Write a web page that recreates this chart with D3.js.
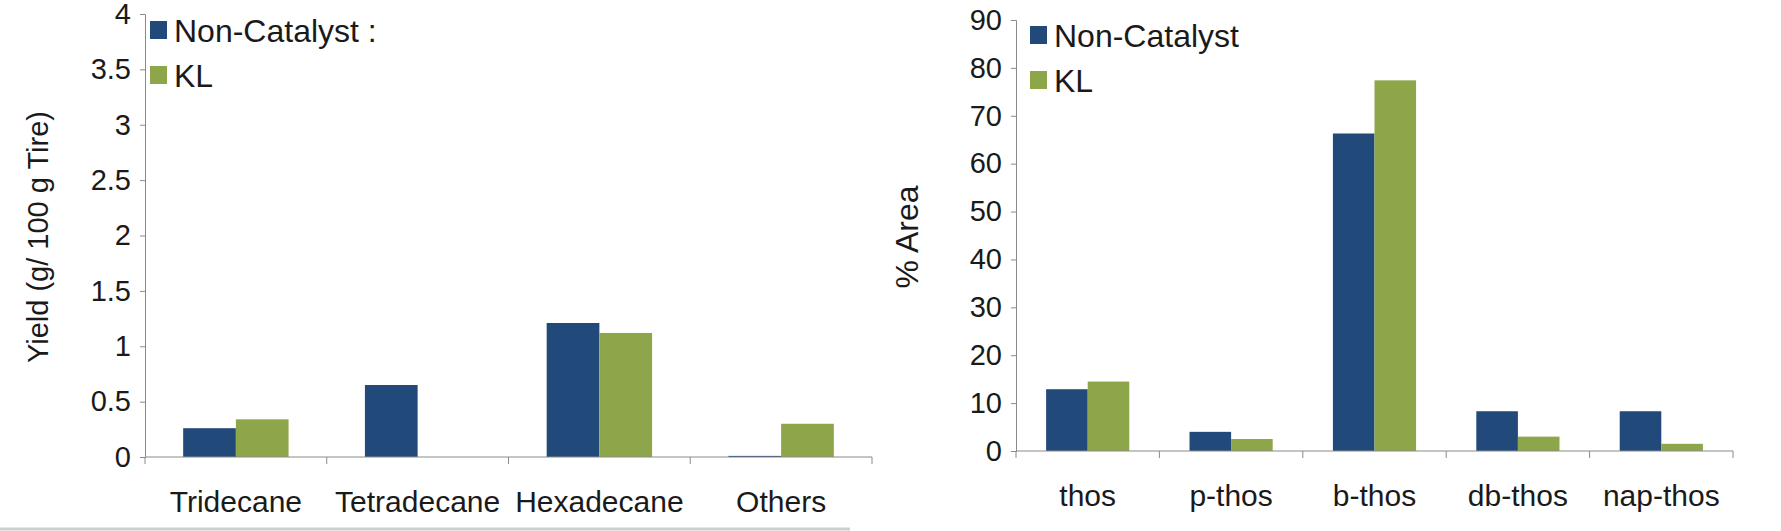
<!DOCTYPE html>
<html><head><meta charset="utf-8">
<script src="https://cdn.jsdelivr.net/npm/d3@7"></script>
<style>body{margin:0;background:#fff}text{font-family:"Liberation Sans",Arial,sans-serif;fill:#1a1a1a}</style>
</head><body><svg id="c" width="1781" height="531"></svg>
<script>
const series = ['Non-Catalyst', 'KL'];
const colors = ['#21497a', '#8da64a'];

const leftCats = ['Tridecane', 'Tetradecane', 'Hexadecane', 'Others'];
const leftNC = [0.26, 0.65, 1.21, 0.01];
const leftKL = [0.34, 0, 1.12, 0.3];
const leftTicks = [0, 0.5, 1, 1.5, 2, 2.5, 3, 3.5, 4];

const rightCats = ['thos', 'p-thos', 'b-thos', 'db-thos', 'nap-thos'];
const rightNC = [12.9, 4.0, 66.3, 8.3, 8.3];
const rightKL = [14.5, 2.5, 77.4, 3.0, 1.5];
const rightTicks = [0, 10, 20, 30, 40, 50, 60, 70, 80, 90];

const svg = d3.select('#c');

function chart(o) {
  const g = svg.append('g');
  const x = d3.scaleBand().domain(o.cats).range([o.x0, o.x1]).paddingInner(0.42).paddingOuter(0.21);
  const xb = d3.scaleBand().domain(o.cats).range([o.x0, o.x1]);
  const sub = d3.scaleBand().domain(series).range([0, x.bandwidth()]);
  const y = d3.scaleLinear().domain([0, o.max]).range([o.y0, o.y1]);

  // bars
  [o.nc, o.kl].forEach((vals, si) => {
    g.selectAll(null).data(o.cats).enter().append('rect')
      .attr('x', (d) => x(d) + sub(series[si]))
      .attr('width', sub.bandwidth())
      .attr('y', (d, i) => y(vals[i]))
      .attr('height', (d, i) => y(0) - y(vals[i]))
      .attr('fill', colors[si]);
  });

  // y axis
  const ya = g.append('g').attr('transform', `translate(${o.x0},0)`)
    .call(d3.axisLeft(y).tickValues(o.ticks).tickSize(5).tickPadding(9).tickFormat((d) => d));
  ya.select('.domain').attr('stroke', '#8a8a8a');
  ya.selectAll('.tick line').attr('stroke', '#8a8a8a');
  ya.selectAll('text').style('font-size', '29px');

  // x axis with ticks on category boundaries
  const xa = g.append('g').attr('transform', `translate(0,${o.y0})`);
  xa.append('line').attr('x1', o.x0).attr('x2', o.x1).attr('stroke', '#8a8a8a');
  xa.selectAll(null).data(o.cats.concat(['end'])).enter().append('line')
    .attr('x1', (d, i) => o.x0 + i * xb.step()).attr('x2', (d, i) => o.x0 + i * xb.step())
    .attr('y1', 0).attr('y2', 7).attr('stroke', '#8a8a8a');
  xa.selectAll(null).data(o.cats).enter().append('text')
    .attr('x', (d) => xb(d) + xb.bandwidth() / 2).attr('y', 55)
    .attr('text-anchor', 'middle').style('font-size', '30px').text((d) => d);

  // y title
  g.append('text').attr('transform', `translate(${o.tx},237) rotate(-90)`)
    .attr('text-anchor', 'middle').style('font-size', o.tsize).text(o.title);

  // legend
  const lg = g.append('g');
  if (o.legendBg) lg.append('rect').attr('x', o.x0 + 1).attr('y', 0).attr('width', 248).attr('height', 118).attr('fill', '#fff');
  series.forEach((s, i) => {
    lg.append('rect').attr('x', o.lx).attr('y', o.ly + i * 45).attr('width', 17).attr('height', 18).attr('fill', colors[i]);
    lg.append('text').attr('x', o.lx + 24).attr('y', o.ly + 21 + i * 45).style('font-size', '32px').text(s + (o.legendBg && i === 0 ? ' :' : ''));
  });
  return g;
}

chart({ cats: leftCats, nc: leftNC, kl: leftKL, ticks: leftTicks, max: 4, x0: 145, x1: 872, y0: 457, y1: 14,
  title: 'Yield (g/ 100 g Tire)', tx: 48, tsize: '29px', lx: 150, ly: 21, legendBg: true });
chart({ cats: rightCats, nc: rightNC, kl: rightKL, ticks: rightTicks, max: 90, x0: 1016, x1: 1733, y0: 451, y1: 20,
  title: '% Area', tx: 918, tsize: '32px', lx: 1030, ly: 26, legendBg: false });

// faint rule along the bottom edge
svg.append('line').attr('x1', 0).attr('x2', 850).attr('y1', 529).attr('y2', 529).attr('stroke', '#cfcfcf').attr('stroke-width', 3);
</script></body></html>
